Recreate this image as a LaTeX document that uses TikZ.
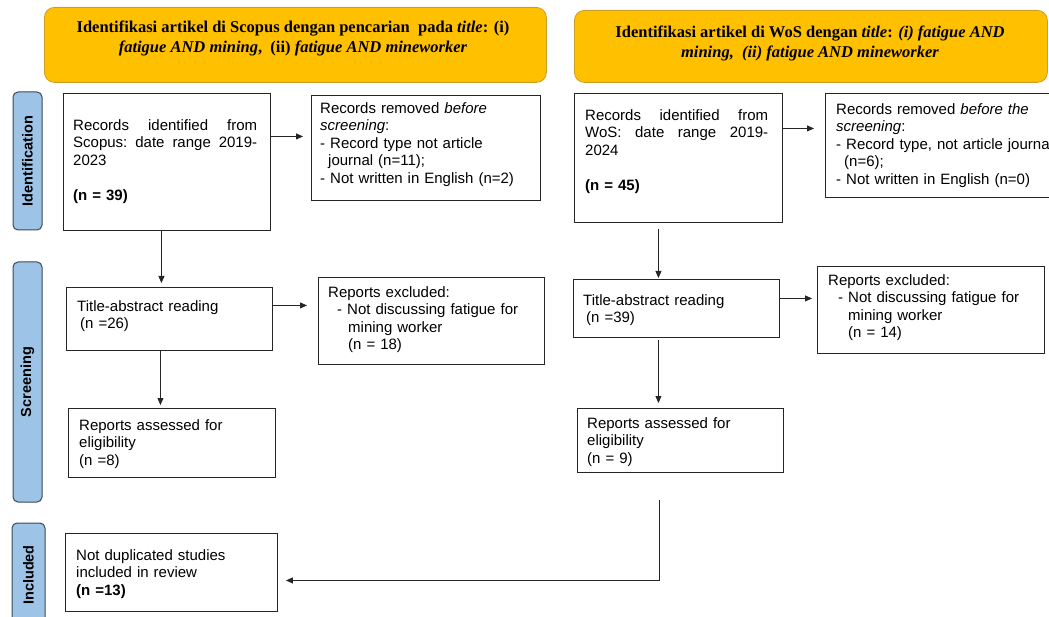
\documentclass[tikz,border=0pt]{standalone}
\usepackage{fontspec}
\setmainfont{Liberation Sans}
\newfontfamily\bannerfont{Liberation Serif}
\usetikzlibrary{arrows.meta}
\definecolor{bannerfill}{HTML}{FFC000}
\definecolor{bannerdraw}{HTML}{C8A02A}
\definecolor{sidefill}{HTML}{9DC3E6}
\definecolor{sidedraw}{HTML}{3A4A5A}
\begin{document}
\begin{tikzpicture}[x=1pt,y=-1pt,
  box/.style={draw=black!85, line width=0.9pt, rectangle, anchor=north west, inner sep=0pt},
  txt/.style={anchor=north west, inner sep=0pt, align=left, text width=#1, font=\fontsize{15}{17.5}\selectfont},
  banner/.style={draw=bannerdraw, fill=bannerfill, rounded corners=10pt, line width=0.8pt, anchor=north west, inner sep=0pt},
  bannertxt/.style={anchor=north, inner sep=0pt, align=center, font=\bannerfont\bfseries\fontsize{16.5}{20}\selectfont},
  side/.style={draw=sidedraw, fill=sidefill, rounded corners=5pt, line width=1pt, rotate=90, inner sep=0pt, font=\bfseries\fontsize{14.5}{17}\selectfont},
  arr/.style={-{Triangle[length=7pt,width=6pt]}, line width=0.9pt, draw=black!85},
  ln/.style={line width=0.9pt, draw=black!85}]

\useasboundingbox (0,0) rectangle (1049,617);
\clip (0,0) rectangle (1049,617);

% banners
\node[banner, minimum width=502pt, minimum height=75pt] (bL) at (44,7) {};
\node[bannertxt] (bLt) at (293,20.6) {Identifikasi artikel di Scopus dengan pencarian\ \ pada \textit{title}: (i)\\
  \textit{fatigue AND mining},\ \ (ii) \textit{fatigue AND mineworker}};
\node[banner, minimum width=473pt, minimum height=72pt] (bR) at (574,10) {};
\node[bannertxt] (bRt) at (810,25.6) {Identifikasi artikel di WoS dengan \textit{title}: \textit{(i) fatigue AND}\\
  \textit{mining,\ \ (ii) fatigue AND mineworker}};

% side labels
\node[side, minimum width=138pt, minimum height=29pt] (sI) at (27.5,161) {Identification};
\node[side, minimum width=240pt, minimum height=29pt] (sS) at (27.5,382) {Screening};
\node[side, minimum width=104pt, minimum height=33pt] (sN) at (28.5,575) {Included};

% boxes left
\node[box, minimum width=207pt, minimum height=137pt] (A) at (63,93) {};
\node[txt=184pt] (At) at (73,119) {Records\hfill identified\hfill from\\Scopus:\hfill date\hfill range\hfill 2019-\\2023\\[17.5pt]\textbf{(n = 39)}};
\node[box, minimum width=229pt, minimum height=105pt] (B) at (311,95) {};
\node[txt=215pt] (Bt) at (320,102) {Records removed \textit{before}\\\textit{screening}:\\- Record type not article\\\hspace*{8pt}journal (n=11);\\- Not written in English (n=2)};
\node[box, minimum width=206pt, minimum height=63pt] (C) at (66,287) {};
\node[txt=190pt] (Ct) at (77,300) {Title-abstract reading\\\hspace*{3pt}(n =26)};
\node[box, minimum width=226pt, minimum height=87pt] (D) at (318,277) {};
\node[txt=215pt] (Dt) at (328,286) {Reports excluded:\\\hspace*{9pt}- Not discussing fatigue for\\\hspace*{20pt}mining worker\\\hspace*{20pt}(n = 18)};
\node[box, minimum width=207pt, minimum height=69pt] (E) at (68,408) {};
\node[txt=190pt] (Et) at (79,419) {Reports assessed for\\eligibility\\(n =8)};
\node[box, minimum width=212pt, minimum height=78pt] (F) at (65,533) {};
\node[txt=195pt] (Ft) at (76,549) {Not duplicated studies\\included in review\\\textbf{(n =13)}};

% boxes right
\node[box, minimum width=208pt, minimum height=129pt] (G) at (574,93) {};
\node[txt=183pt] (Gt) at (585,109) {Records\hfill identified\hfill from\\WoS:\hfill date\hfill range\hfill 2019-\\2024\\[17.5pt]\textbf{(n = 45)}};
\node[box, minimum width=240pt, minimum height=104pt] (H) at (825,93) {};
\node[txt=300pt] (Ht) at (836,103) {Records removed \textit{before the}\\\textit{screening}:\\- Record type, not article journal\\\hspace*{8pt}(n=6);\\- Not written in English (n=0)};
\node[box, minimum width=206pt, minimum height=58pt] (I) at (573,279) {};
\node[txt=190pt] (It) at (583,294) {Title-abstract reading\\\hspace*{3pt}(n =39)};
\node[box, minimum width=227pt, minimum height=87pt] (J) at (817,266) {};
\node[txt=215pt] (Jt) at (828,274) {Reports excluded:\\\hspace*{10pt}- Not discussing fatigue for\\\hspace*{20pt}mining worker\\\hspace*{20pt}(n = 14)};
\node[box, minimum width=206pt, minimum height=64pt] (K) at (577,408) {};
\node[txt=190pt] (Kt) at (587,417) {Reports assessed for\\eligibility\\(n = 9)};

% connectors left
\coordinate (a1) at ([yshift=25.5pt]A.east);
\draw[arr, shorten >=8pt] (a1) -- (a1 -| B.west);
\coordinate (a2) at ([xshift=-5.5pt]A.south);
\draw[arr, shorten >=4pt] (a2) -- (a2 |- C.north);
\coordinate (c1) at ([yshift=13.5pt]C.east);
\draw[arr, shorten >=11pt] (c1) -- (c1 -| D.west);
\coordinate (c2) at ([xshift=-9pt]C.south);
\draw[arr, shorten >=3pt] (c2) -- (c2 |- E.north);

% connectors right
\coordinate (g1) at ([yshift=29.5pt]G.east);
\draw[arr, shorten >=11pt] (g1) -- (g1 -| H.west);
\coordinate (g2) at ([xshift=-20pt]G.south);
\draw[arr, shorten <=6pt, shorten >=1pt] (g2) -- (g2 |- I.north);
\coordinate (i1) at ([yshift=10pt]I.east);
\draw[arr, shorten >=5pt] (i1) -- (i1 -| J.west);
\coordinate (i2) at ([xshift=-18pt]I.south);
\draw[arr, shorten <=2pt, shorten >=5pt] (i2) -- (i2 |- K.north);

% final connector
\coordinate (fs) at (659,500);
\coordinate (fe) at ([yshift=-8pt]F.east);
\draw[arr, shorten >=8pt] (fs) |- (fe);
\end{tikzpicture}
\end{document}
